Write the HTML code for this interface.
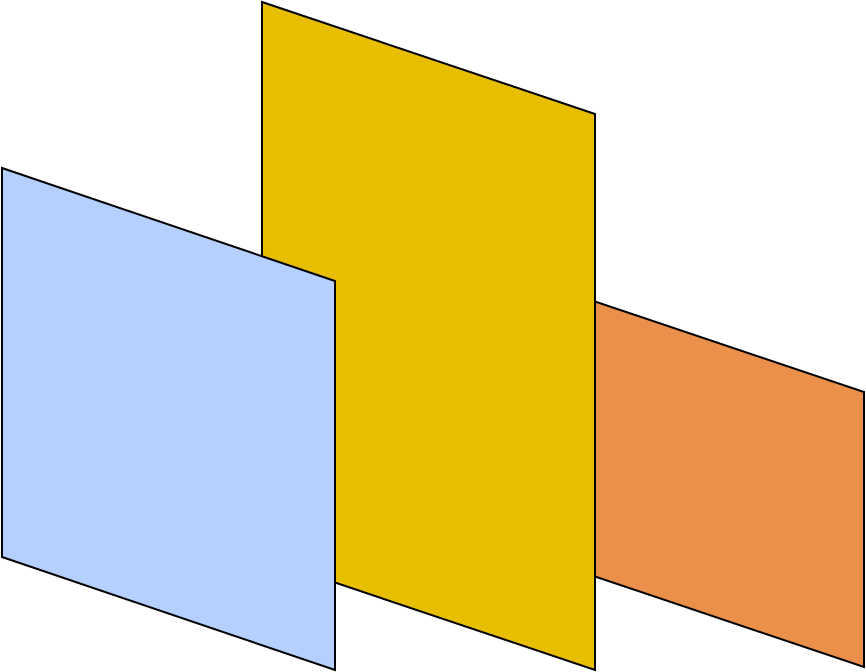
<!DOCTYPE html>
<html>
<head>
<meta charset="utf-8">
<style>
  html, body { margin: 0; padding: 0; background: #ffffff; }
  svg { display: block; }
</style>
</head>
<body>
<svg width="866" height="672" viewBox="0 0 866 672" xmlns="http://www.w3.org/2000/svg">
  <polygon
    points="531,280 864,392 864,667 531,555"
    fill="#ea904b" stroke="#000" stroke-width="2" stroke-linejoin="miter"/>
  <polygon
    points="262,2 595,114 595,670 262,558"
    fill="#e8be00" stroke="#000" stroke-width="2" stroke-linejoin="miter"/>
  <polygon
    points="2,168 335,281 335,670 2,557"
    fill="#b5cfff" stroke="#000" stroke-width="2" stroke-linejoin="miter"/>
</svg>
</body>
</html>
